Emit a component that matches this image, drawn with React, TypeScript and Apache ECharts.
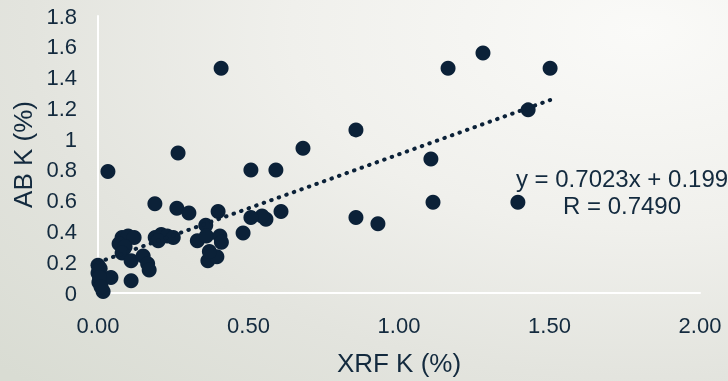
import React, { useEffect, useRef } from "react";
import * as echarts from "echarts";

// XRF K (%) readings
const xrfK: number[] = [
  0.033, 0.266, 0.409, 0.508, 0.591, 0.681, 0.857, 1.106, 1.163, 1.279, 1.502, 1.429,
  1.395, 1.113, 0.93, 0.857, 0.608, 0.558, 0.545, 0.508, 0.482, 0.399, 0.189, 0.262, 0.302,
  0.358, 0.33, 0.36, 0.405, 0.41, 0.365, 0.395, 0.37,
  0.19, 0.21, 0.23, 0.25, 0.2,
  0.08, 0.1, 0.12, 0.07, 0.09, 0.08, 0.11, 0.11, 0.15, 0.165, 0.17,
  0.0, 0.0, 0.003, 0.017, 0.043, 0.007, 0.005, 0.01,
];

// AB K (%) readings, paired with xrfK
const abK: number[] = [
  0.79, 0.91, 1.46, 0.8, 0.8, 0.94, 1.06, 0.87, 1.46, 1.56, 1.46, 1.19,
  0.59, 0.59, 0.45, 0.49, 0.53, 0.48, 0.5, 0.49, 0.39, 0.53, 0.58, 0.55, 0.52,
  0.44, 0.34, 0.37, 0.37, 0.33, 0.21, 0.235, 0.27,
  0.36, 0.38, 0.37, 0.36, 0.34,
  0.36, 0.37, 0.36, 0.32, 0.3, 0.26, 0.21, 0.08, 0.24, 0.19, 0.15,
  0.18, 0.13, 0.07, 0.01, 0.1, 0.16, 0.1, 0.04,
];

// Linear fit
const slope = 0.7023;
const intercept = 0.199;
const rValue = "0.7490";

const xTicks = { min: 0, max: 2, interval: 0.5 };
const yTicks = { min: 0, max: 1.8, interval: 0.2 };

const ink = "#132a3e";
const dotColor = "#0b2138";
const font = "'Liberation Sans', Arial, sans-serif";

export default function App() {
  const ref = useRef<HTMLDivElement>(null);

  useEffect(() => {
    if (!ref.current) return;
    const chart = echarts.init(ref.current, undefined, { renderer: "svg" });
    const points = xrfK.map((x, i) => [x, abK[i]]);
    const xMin = Math.min(...xrfK);
    const xMax = Math.max(...xrfK);
    const trend = [
      [xMin, slope * xMin + intercept],
      [xMax, slope * xMax + intercept],
    ];

    chart.setOption({
      animation: false,
      backgroundColor: "transparent",
      textStyle: { fontFamily: font, color: ink },
      grid: { left: 98, right: 28, top: 16, bottom: 81 },
      xAxis: {
        type: "value",
        min: xTicks.min,
        max: xTicks.max,
        interval: xTicks.interval,
        name: "XRF K (%)",
        nameLocation: "middle",
        nameGap: 57,
        nameTextStyle: { fontSize: 26, color: ink, fontFamily: font },
        axisLine: { show: true, lineStyle: { color: "#ffffff", width: 2 } },
        axisTick: { show: false },
        splitLine: { show: false },
        axisLabel: {
          fontSize: 22,
          color: ink,
          fontFamily: font,
          margin: 21,
          formatter: (v: number) => v.toFixed(2),
        },
      },
      yAxis: {
        type: "value",
        min: yTicks.min,
        max: yTicks.max,
        interval: yTicks.interval,
        name: "AB K (%)",
        nameLocation: "middle",
        nameGap: 62,
        nameTextStyle: { fontSize: 26, color: ink, fontFamily: font },
        axisLine: { show: true, lineStyle: { color: "#ffffff", width: 2 } },
        axisTick: { show: false },
        splitLine: { show: false },
        axisLabel: { fontSize: 22, color: ink, fontFamily: font, margin: 21 },
      },
      series: [
        {
          type: "scatter",
          data: points,
          symbolSize: 15,
          itemStyle: { color: dotColor, opacity: 1 },
        },
        {
          type: "line",
          data: trend,
          showSymbol: false,
          symbol: "none",
          lineStyle: { color: dotColor, width: 4, type: [0.5, 7.5], cap: "round" },
          z: 3,
        },
      ],
      graphic: [
        {
          type: "text",
          x: 622,
          y: 178,
          style: {
            text: `y = ${slope.toFixed(4)}x + ${intercept}`,
            fontSize: 24,
            fontFamily: font,
            fill: ink,
            textAlign: "center",
            textVerticalAlign: "middle",
          },
        },
        {
          type: "text",
          x: 622,
          y: 205,
          style: {
            text: `R = ${rValue}`,
            fontSize: 24,
            fontFamily: font,
            fill: ink,
            textAlign: "center",
            textVerticalAlign: "middle",
          },
        },
      ],
    });
    return () => chart.dispose();
  }, []);

  return (
    <div
      style={{
        position: "fixed",
        left: 0,
        top: 0,
        width: 728,
        height: 381,
        overflow: "hidden",
        background:
          "radial-gradient(ellipse 120% 130% at 88% 8%, #fafaf8 0%, #f0f0ec 40%, #e3e4de 70%, #d9dcd3 100%)",
      }}
    >
      <div ref={ref} style={{ width: 728, height: 381 }} />
    </div>
  );
}
